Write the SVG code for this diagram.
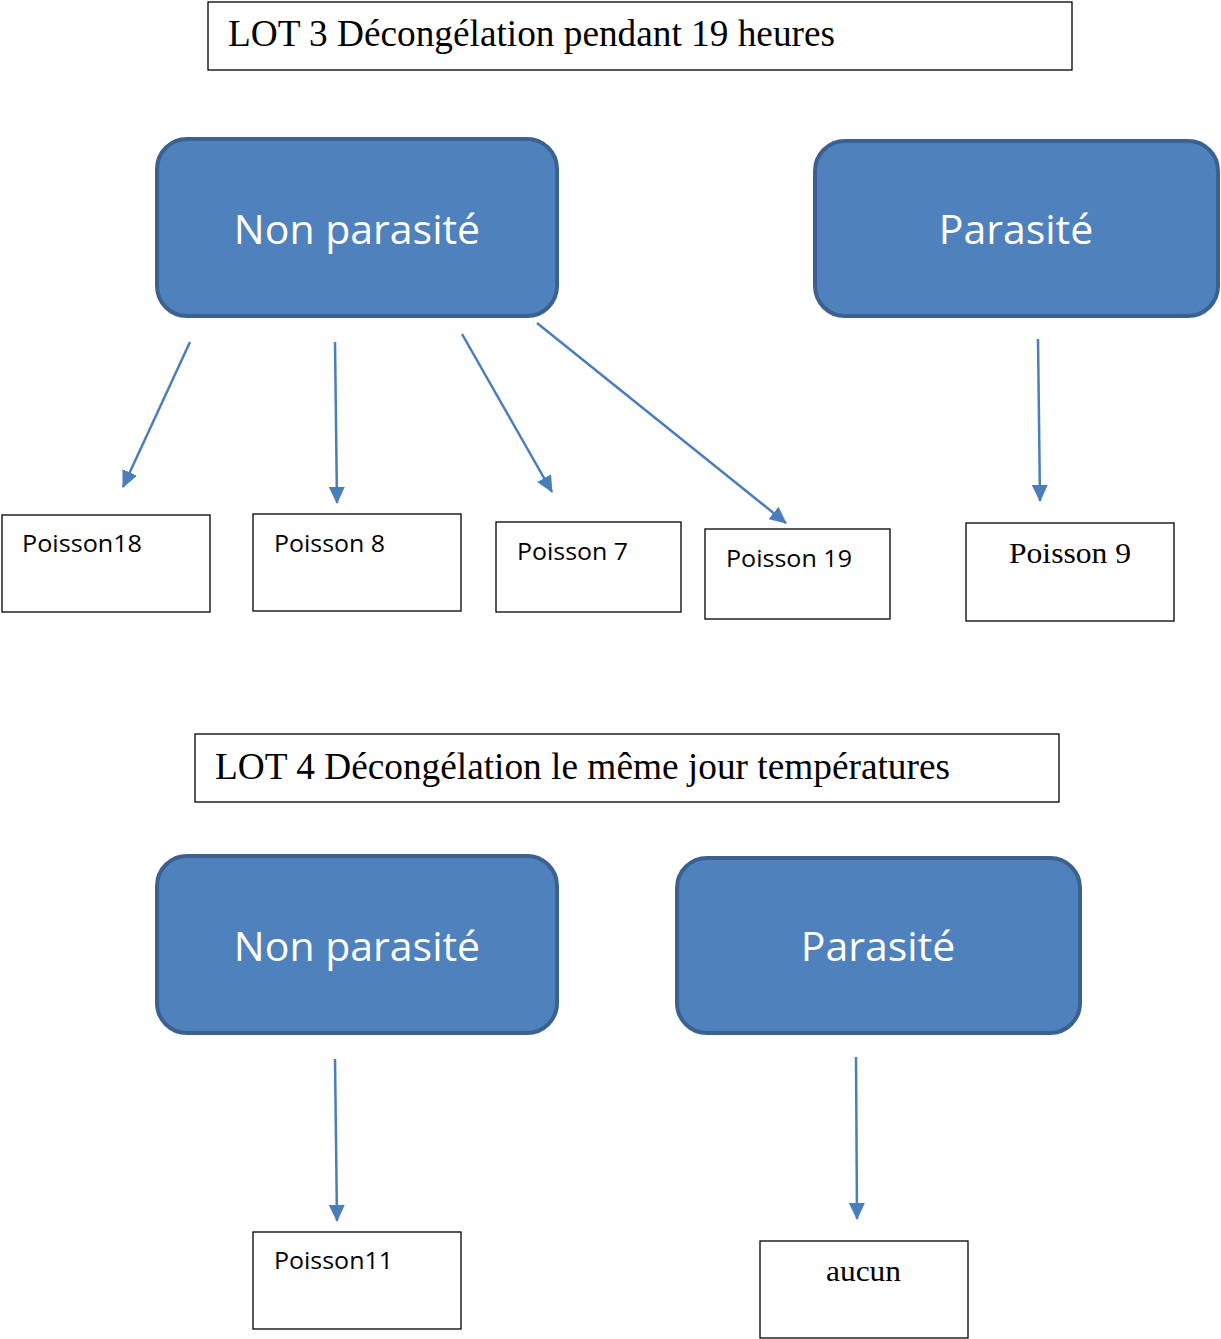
<svg xmlns="http://www.w3.org/2000/svg" width="1221" height="1339" viewBox="0 0 1221 1339">
<style>
.title{fill:#fff;stroke:#000;stroke-width:1.3}
.ttxt{font-family:"Liberation Serif",serif;font-size:37px;fill:#000}
.cat{fill:#4f81bd;stroke:#3a6190;stroke-width:4}
.ctxt{font-family:"Open Sans","Liberation Sans",sans-serif;font-size:41px;fill:#fff;text-anchor:middle}
.leaf{fill:#fff;stroke:#000;stroke-width:1.3}
.ltxt{font-family:"Open Sans","Liberation Sans",sans-serif;font-size:24px;fill:#000}
.lser{font-family:"Liberation Serif",serif;font-size:30px;fill:#000}
.conn{stroke:#4a7ebb;stroke-width:2.5;fill:none;marker-end:url(#ah)}
</style>
<defs>
<marker id="ah" markerUnits="userSpaceOnUse" markerWidth="17" markerHeight="16" refX="16" refY="8" orient="auto" viewBox="0 0 17 16">
<path d="M0,0 L17,8 L0,16 Z" fill="#4a7ebb"/>
</marker>
</defs>
<rect width="1221" height="1339" fill="#fff"/>
<g id="title1"><rect class="title" x="208" y="2" width="864" height="68"/><text class="ttxt" x="228" y="46" textLength="607" lengthAdjust="spacingAndGlyphs">LOT 3 Décongélation pendant 19 heures</text></g>
<g id="np1"><rect class="cat" x="157" y="139" width="400" height="177" rx="30"/><text class="ctxt" x="357" y="244">Non parasité</text></g>
<g id="p1"><rect class="cat" x="815" y="141" width="403" height="175" rx="30"/><text class="ctxt" x="1016" y="244">Parasité</text></g>
<g id="n18"><rect class="leaf" x="2" y="515" width="208" height="97"/><text class="ltxt" x="22" y="552" textLength="120" lengthAdjust="spacingAndGlyphs">Poisson18</text></g>
<g id="n8"><rect class="leaf" x="253" y="514" width="208" height="97"/><text class="ltxt" x="274" y="552" textLength="111" lengthAdjust="spacingAndGlyphs">Poisson 8</text></g>
<g id="n7"><rect class="leaf" x="496" y="522" width="185" height="90"/><text class="ltxt" x="517" y="560" textLength="111" lengthAdjust="spacingAndGlyphs">Poisson 7</text></g>
<g id="n19"><rect class="leaf" x="705" y="529" width="185" height="90"/><text class="ltxt" x="726" y="567" textLength="126" lengthAdjust="spacingAndGlyphs">Poisson 19</text></g>
<g id="n9"><rect class="leaf" x="966" y="523" width="208" height="98"/><text class="lser" x="1009" y="563" textLength="122" lengthAdjust="spacingAndGlyphs">Poisson 9</text></g>
<g id="title2"><rect class="title" x="195" y="734" width="864" height="68"/><text class="ttxt" x="215" y="779" textLength="735" lengthAdjust="spacingAndGlyphs">LOT 4 Décongélation le même jour températures</text></g>
<g id="np2"><rect class="cat" x="157" y="856" width="400" height="177" rx="30"/><text class="ctxt" x="357" y="961">Non parasité</text></g>
<g id="p2"><rect class="cat" x="677" y="858" width="403" height="175" rx="30"/><text class="ctxt" x="878" y="961">Parasité</text></g>
<g id="n11"><rect class="leaf" x="253" y="1232" width="208" height="97"/><text class="ltxt" x="274" y="1269" textLength="119" lengthAdjust="spacingAndGlyphs">Poisson11</text></g>
<g id="aucun"><rect class="leaf" x="760" y="1241" width="208" height="97"/><text class="lser" x="826" y="1281" textLength="75" lengthAdjust="spacingAndGlyphs">aucun</text></g>
<g id="connectors">
<line class="conn" x1="190" y1="342" x2="123" y2="487"/>
<line class="conn" x1="335" y1="342" x2="337" y2="503"/>
<line class="conn" x1="462" y1="334" x2="552" y2="492"/>
<line class="conn" x1="537" y1="323" x2="786" y2="523"/>
<line class="conn" x1="1038" y1="339" x2="1040" y2="501"/>
<line class="conn" x1="335" y1="1059" x2="337" y2="1221"/>
<line class="conn" x1="856" y1="1057" x2="857" y2="1219"/>
</g>
</svg>
